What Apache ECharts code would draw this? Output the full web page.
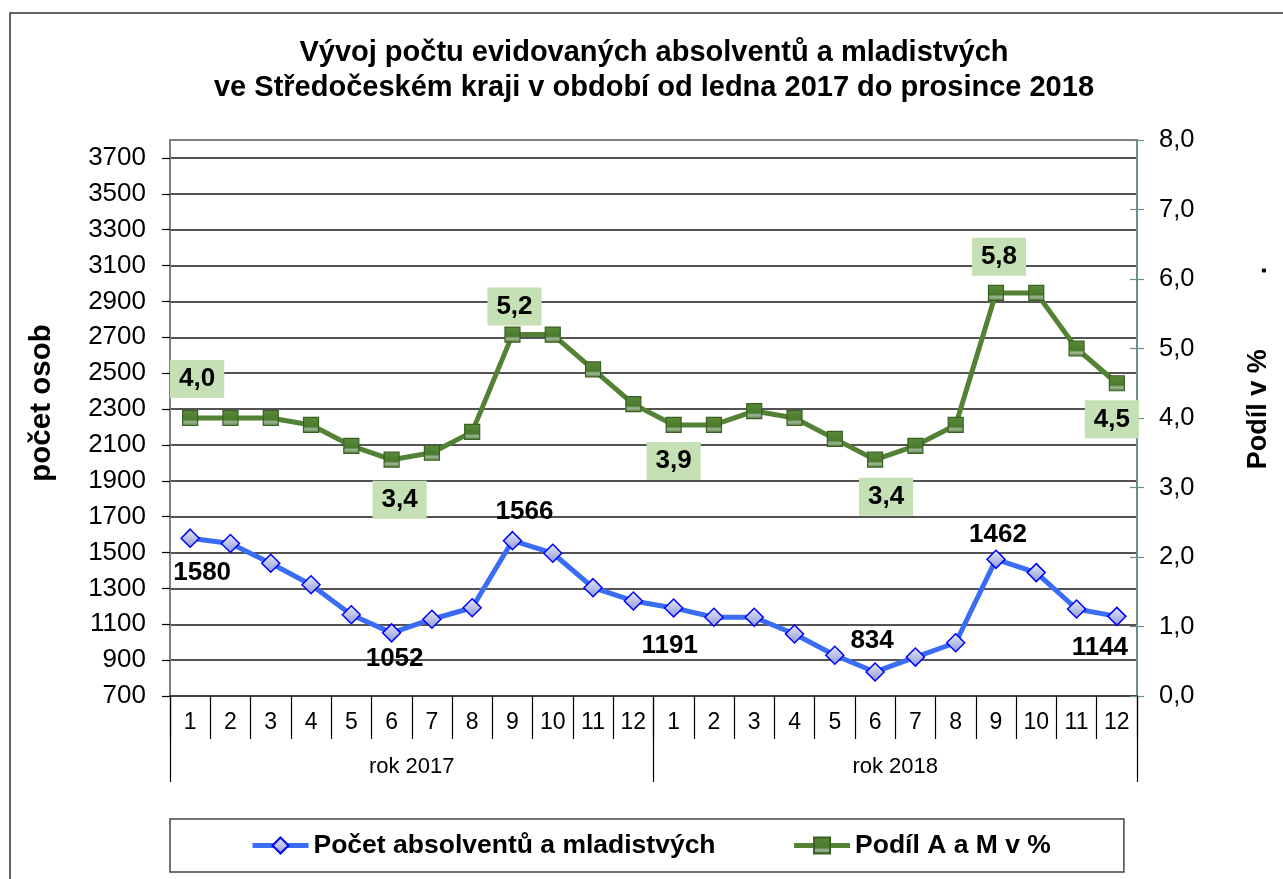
<!DOCTYPE html>
<html>
<head>
<meta charset="utf-8">
<script src="https://cdn.jsdelivr.net/npm/echarts@6/dist/echarts.min.js"></script>
<style>
  html, body { margin: 0; padding: 0; background: #fff; }
  #chart { width: 1283px; height: 879px; }
</style>
</head>
<body>
<div id="chart"></div>
<script>
// Vývoj počtu evidovaných absolventů a mladistvých – Středočeský kraj 2017–2018

const FONT = '"Liberation Sans", Arial, sans-serif'

// ---- data ----
const months = ['1', '2', '3', '4', '5', '6', '7', '8', '9', '10', '11', '12',
  '1', '2', '3', '4', '5', '6', '7', '8', '9', '10', '11', '12']
const years = ['rok 2017', 'rok 2018']
const countValues = [1580, 1550, 1440, 1320, 1153, 1052, 1128, 1192, 1566, 1496, 1304, 1230,
  1191, 1139, 1139, 1046, 927, 834, 917, 997, 1462, 1388, 1185, 1144]
const shareValues = [4.0, 4.0, 4.0, 3.9, 3.6, 3.4, 3.5, 3.8, 5.2, 5.2, 4.7, 4.2,
  3.9, 3.9, 4.1, 4.0, 3.7, 3.4, 3.6, 3.9, 5.8, 5.8, 5.0, 4.5]
const countTicks = [700, 900, 1100, 1300, 1500, 1700, 1900, 2100, 2300, 2500,
  2700, 2900, 3100, 3300, 3500, 3700]
const seriesNames = ['Počet absolventů a mladistvých', 'Podíl A a M v %']

// ---- label placement (index -> [position, distance, dx]) ----
const countLabelStyle = {
  0: ['bottom', 12, 12], 5: ['bottom', 3, 3], 8: ['top', 6, 12], 12: ['bottom', 15, -4],
  17: ['top', 8, -3], 20: ['top', 2, 2], 23: ['bottom', 9, -17],
}
const shareLabelStyle = {
  0: ['top', 12, 7], 5: ['bottom', 13, 8], 8: ['top', 1, 2], 12: ['bottom', 9, 0],
  17: ['bottom', 10, 11], 20: ['top', 9, 3], 23: ['bottom', 9, -5],
}

const fmtComma = (v) => v.toFixed(1).replace('.', ',')

function withLabels(values, styles, extra, fmt) {
  return values.map((v, i) => {
    const s = styles[i]
    if (!s) return v
    return {
      value: v,
      label: Object.assign({
        show: true,
        position: s[0],
        distance: s[1],
        offset: [s[2], 0],
        formatter: () => fmt(v),
      }, extra),
    }
  })
}

const labelText = { color: '#000', fontFamily: FONT, fontWeight: 'bold', fontSize: 26 }

const blueFill = {
  type: 'linear', x: 0, y: 0, x2: 0, y2: 1,
  colorStops: [{ offset: 0, color: '#e6e9f8' }, { offset: 1, color: '#8e9ad6' }],
}
const greenFill = {
  type: 'linear', x: 0, y: 0, x2: 0, y2: 1,
  colorStops: [
    { offset: 0, color: '#5a8a3a' }, { offset: 0.6, color: '#4a7a2c' },
    { offset: 0.75, color: '#9fb79a' }, { offset: 1, color: '#4a7a2c' },
  ],
}

const chart = echarts.init(document.getElementById('chart'))

chart.setOption({
  backgroundColor: '#fff',
  animation: false,
  textStyle: { fontFamily: FONT },
  title: {
    text: 'Vývoj počtu evidovaných absolventů a mladistvých\nve Středočeském kraji v období od ledna 2017 do prosince 2018',
    left: 654,
    top: 35,
    padding: 0,
    textAlign: 'center',
    textStyle: { fontFamily: FONT, fontWeight: 'bold', fontSize: 29, lineHeight: 35, color: '#000' },
  },
  graphic: [{
    type: 'rect',
    shape: { x: 10, y: 13, width: 1400, height: 1000 },
    style: { fill: 'none', stroke: '#333', lineWidth: 1.5 },
    silent: true,
  }],
  legend: {
    left: 170,
    top: 819,
    padding: [13, 73, 13, 80],
    itemGap: 76,
    itemWidth: 56,
    itemHeight: 20,
    borderColor: '#444',
    borderWidth: 1.5,
    lineStyle: { width: 5 },
    textStyle: { fontFamily: FONT, fontWeight: 'bold', fontSize: 26.5, color: '#000' },
    data: seriesNames,
  },
  grid: {
    left: 170, right: 146, top: 140, bottom: 183,
    show: true, borderColor: '#808080', borderWidth: 2,
    outerBoundsMode: 'none',
  },
  xAxis: [{
    type: 'category',
    data: months,
    boundaryGap: true,
    axisLine: { lineStyle: { color: '#404040', width: 2 } },
    axisTick: { show: true, interval: 0, length: 43, lineStyle: { color: '#000', width: 1.2 } },
    axisLabel: { interval: 0, margin: 15, color: '#000', fontFamily: FONT, fontSize: 23 },
    splitLine: { show: false },
  }, {
    type: 'category',
    data: years,
    position: 'bottom',
    boundaryGap: true,
    axisLine: { show: false },
    axisTick: { show: true, interval: 0, length: 86, lineStyle: { color: '#000', width: 1.2 } },
    axisLabel: { interval: 0, margin: 60, color: '#000', fontFamily: FONT, fontSize: 22 },
    splitLine: { show: false },
  }],
  yAxis: [{
    type: 'value',
    min: 700,
    max: 3800,
    position: 'left',
    name: 'počet osob',
    nameLocation: 'middle',
    nameRotate: 90,
    nameGap: 113,
    nameTextStyle: { fontFamily: FONT, fontWeight: 'bold', fontSize: 29.5, color: '#000', padding: [0, 0, 0, 30] },
    axisLine: { show: true, lineStyle: { color: '#808080', width: 2 } },
    axisTick: { show: true, length: 8, customValues: countTicks, lineStyle: { color: '#000', width: 1.2 } },
    axisLabel: {
      customValues: countTicks, margin: 24, color: '#000', fontFamily: FONT, fontSize: 26,
      formatter: (v) => String(v),
    },
    splitLine: { show: true, lineStyle: { color: '#1a1a1a', width: 1.5 } },
  }, {
    type: 'value',
    min: 0,
    max: 8,
    interval: 1,
    position: 'right',
    name: 'Podíl v %          .',
    nameLocation: 'middle',
    nameRotate: 90,
    nameGap: 108,
    nameTextStyle: { fontFamily: FONT, fontWeight: 'bold', fontSize: 27, color: '#000', padding: [0, 0, 0, 100] },
    axisLine: { show: true, lineStyle: { color: '#6b9090', width: 2 } },
    axisTick: { show: true, length: 7, lineStyle: { color: '#6b9090', width: 1.2 } },
    axisLabel: { margin: 22, color: '#000', fontFamily: FONT, fontSize: 25.5, formatter: fmtComma },
    splitLine: { show: false },
  }, {
    // inner half of the crossing ticks on the right axis
    type: 'value',
    min: 0,
    max: 8,
    interval: 1,
    position: 'right',
    axisLine: { show: false },
    axisTick: { show: true, inside: true, length: 7, lineStyle: { color: '#6b9090', width: 1.2 } },
    axisLabel: { show: false },
    splitLine: { show: false },
  }],
  series: [{
    name: seriesNames[0],
    type: 'line',
    xAxisIndex: 0,
    yAxisIndex: 0,
    data: withLabels(countValues, countLabelStyle, labelText, (v) => String(v)),
    symbol: 'diamond',
    symbolSize: 18,
    showAllSymbol: true,
    lineStyle: { color: '#3b6cf6', width: 5 },
    itemStyle: { color: blueFill, borderColor: '#0000ff', borderWidth: 1.5 },
    z: 3,
  }, {
    name: seriesNames[1],
    type: 'line',
    xAxisIndex: 0,
    yAxisIndex: 1,
    data: withLabels(shareValues, shareLabelStyle, Object.assign({
      backgroundColor: '#c5e0b4', padding: [6, 9, 6, 9],
    }, labelText), fmtComma),
    symbol: 'rect',
    symbolSize: 15,
    showAllSymbol: true,
    lineStyle: { color: '#538135', width: 5 },
    itemStyle: { color: greenFill, borderColor: '#3b5f22', borderWidth: 1.2 },
    z: 3,
  }],
})
</script>
</body>
</html>
